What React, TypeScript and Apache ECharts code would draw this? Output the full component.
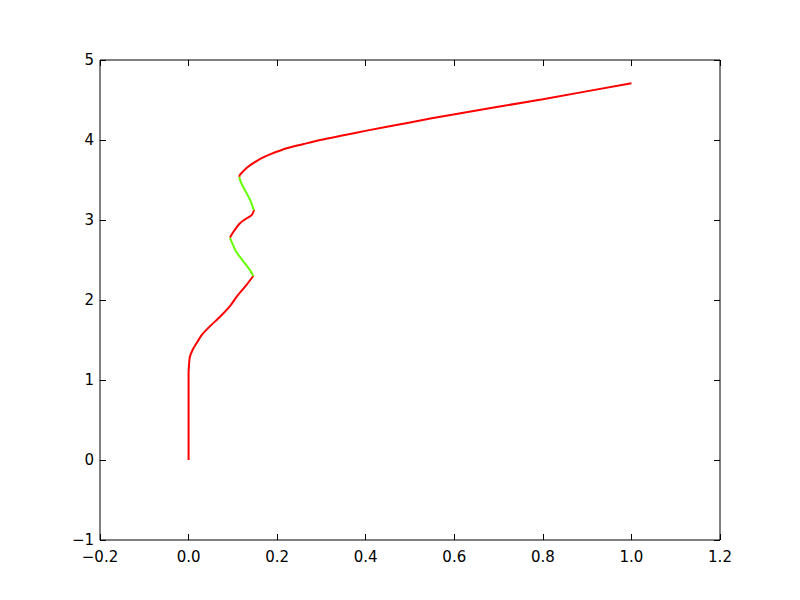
import React, { useEffect, useRef } from "react";
import * as echarts from "echarts";

// Curve segments: x values and y values (red = increasing x, green = decreasing x)
const red1X = [0, 0, 0, 0, 0, 0, 0, 0.001, 0.003, 0.009, 0.018, 0.0295, 0.048, 0.071, 0.093, 0.1085, 0.131, 0.146];
const red1Y = [0, 0.2, 0.4, 0.6, 0.8, 1.0, 1.08, 1.19, 1.29, 1.375, 1.46, 1.56, 1.67, 1.79, 1.92, 2.04, 2.19, 2.30];

const green1X = [0.146, 0.139, 0.124, 0.108, 0.097, 0.0935];
const green1Y = [2.30, 2.37, 2.48, 2.60, 2.73, 2.78];

const red2X = [0.0935, 0.101, 0.116, 0.131, 0.1425, 0.148];
const red2Y = [2.78, 2.85, 2.96, 3.02, 3.06, 3.125];

const green2X = [0.148, 0.146, 0.139, 0.127, 0.1175, 0.1145];
const green2Y = [3.125, 3.146, 3.25, 3.375, 3.48, 3.54];

const red3X = [0.1145, 0.116, 0.12, 0.131, 0.146, 0.164, 0.184, 0.2215, 0.26, 0.297, 0.35, 0.402, 0.5, 0.598, 0.80, 1.0];
const red3Y = [3.54, 3.565, 3.59, 3.65, 3.71, 3.77, 3.82, 3.896, 3.95, 4.0, 4.06, 4.117, 4.22, 4.32, 4.51, 4.71];

const xTicks = { min: -0.2, max: 1.2, interval: 0.2 };
const yTicks = { min: -1, max: 5, interval: 1 };

const RED = "#ff0000";
const GREEN = "#66ff00";

function pairs(xs: number[], ys: number[]) {
  return xs.map((x, i) => [x, ys[i]]);
}

const fmt = (v: number, d: number) => {
  const s = Math.abs(v).toFixed(d);
  return (v < -1e-9 ? "\u2212" : "") + s;
};

export default function App() {
  const ref = useRef<HTMLDivElement>(null);
  useEffect(() => {
    if (!ref.current) return;
    const chart = echarts.init(ref.current, undefined, { renderer: "svg" });
    const font = "DejaVu Sans";
    const axisCommon = {
      type: "value" as const,
      axisLine: { show: false, onZero: false },
      splitLine: { show: false },
      axisTick: { show: true, inside: true, length: 6, lineStyle: { color: "#000", width: 1 } },
    };
    const mkSeries = (xs: number[], ys: number[], color: string) => ({
      type: "line",
      data: pairs(xs, ys),
      showSymbol: false,
      symbol: "none",
      smooth: 0.25,
      lineStyle: { color, width: 2 },
      xAxisIndex: 0,
      yAxisIndex: 0,
      z: 3,
    });
    chart.setOption({
      animation: false,
      backgroundColor: "#fff",
      grid: {
        left: 100, right: 80, top: 60, bottom: 60,
        show: true, borderColor: "#000", borderWidth: 1, backgroundColor: "transparent",
      },
      xAxis: [
        {
          ...axisCommon, position: "bottom", ...xTicks,
          axisLabel: { color: "#000", fontFamily: font, fontSize: 15, margin: 9, formatter: (v: number) => fmt(v, 1) },
        },
        {
          ...axisCommon, position: "top", ...xTicks,
          axisLabel: { show: false },
        },
      ],
      yAxis: [
        {
          ...axisCommon, position: "left", ...yTicks,
          axisLabel: { color: "#000", fontFamily: font, fontSize: 15, margin: 6, formatter: (v: number) => fmt(v, 0) },
        },
        {
          ...axisCommon, position: "right", ...yTicks,
          axisLabel: { show: false },
        },
      ],
      series: [
        mkSeries(red1X, red1Y, RED),
        mkSeries(green1X, green1Y, GREEN),
        mkSeries(red2X, red2Y, RED),
        mkSeries(green2X, green2Y, GREEN),
        mkSeries(red3X, red3Y, RED),
      ],
    });
    return () => chart.dispose();
  }, []);
  return <div ref={ref} style={{ width: 800, height: 600, position: "absolute", left: 0, top: 0 }} />;
}
